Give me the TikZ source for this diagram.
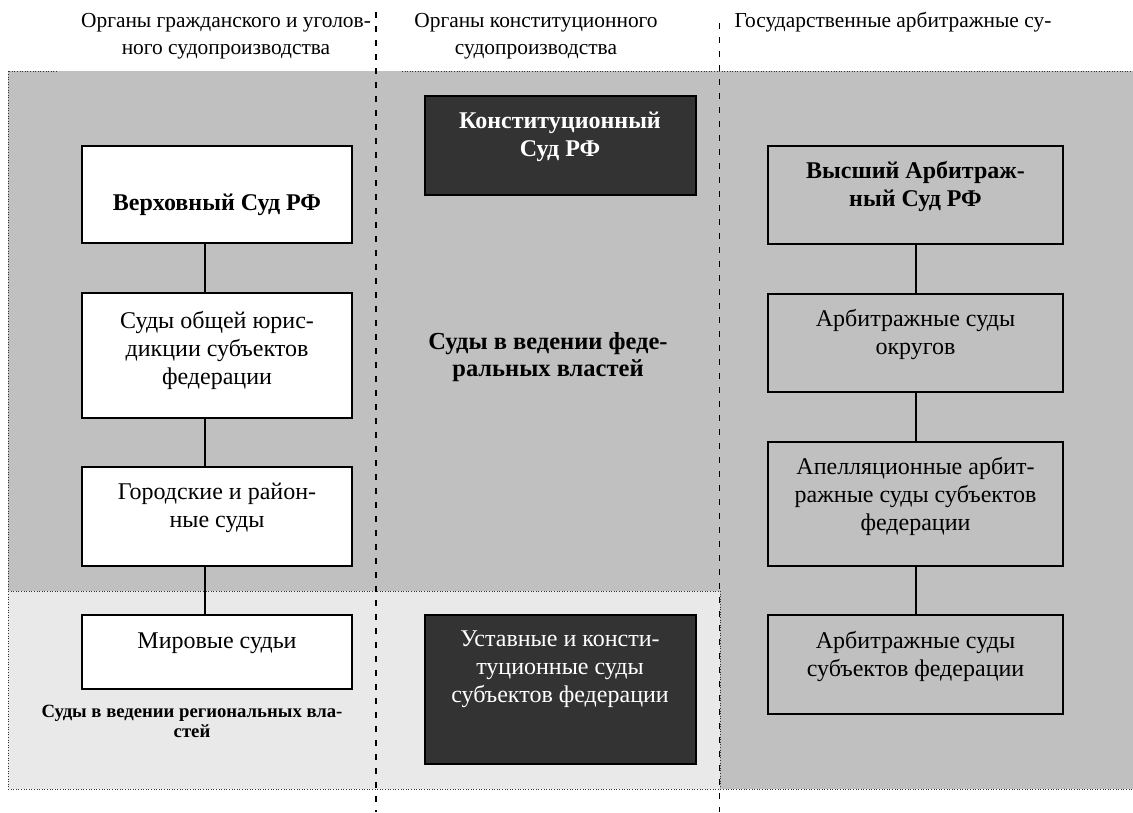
\documentclass[tikz,border=0pt]{standalone}
\usepackage{fontspec}
\setmainfont{Liberation Serif}
\definecolor{bgA}{RGB}{192,192,192}
\definecolor{bgB}{RGB}{233,233,233}
\definecolor{darkbox}{RGB}{51,51,51}
\newcommand\fbody{\fontsize{24}{28}\selectfont}
\newcommand\fhead{\fontsize{21.4}{27}\selectfont}
\newcommand\fsmall{\fontsize{18.7}{20}\selectfont\bfseries}
\tikzset{
  box/.style={draw=black, line width=2pt, inner sep=0pt, minimum width=#1},
  box/.default=270pt,
  whitebox/.style={box, fill=white},
  darkb/.style={box=271pt, fill=darkbox},
  greybox/.style={box=295pt},
  txt/.style={anchor=north, inner sep=0pt, align=center, font=\fbody},
  htxt/.style={anchor=north, inner sep=0pt, align=center, font=\fhead},
  link/.style={line width=2pt},
  dotline/.style={line width=0.9pt, dash pattern=on 1pt off 1.6pt, draw=black!80},
  divider/.style={line width=1.6pt, dash pattern=on 6pt off 8pt}
}
\begin{document}
\begin{tikzpicture}[x=1pt,y=-1pt]
\useasboundingbox (0,0) rectangle (1133,812);
% backgrounds
\fill[bgA] (8,71) rectangle (1133,591);
\fill[bgB] (8,591) rectangle (720,789);
\fill[bgA] (720,591) rectangle (1133,789);
\draw[dotline] (57,71) -- (8,71) -- (8,789) -- (1133,789);
\draw[dotline] (402,71) -- (1133,71);
\draw[dotline] (8,591) -- (720,591);
\draw[dotline] (720,591) -- (720,789);
% dividers
\coordinate (d1t) at (376,12);
\coordinate (d1b) at (376,812);
\coordinate (d2t) at (719.5,23);
\coordinate (d2b) at (719.5,812);
\draw[divider] (d1t) -- (d1b);
\draw[divider] (d2t) -- (d2b);
% headers
\node[htxt] (h1) at (226,8) {\strut Органы гражданского и уголов-\\ного судопроизводства};
\node[htxt] (h2) at (536,8) {\strut Органы конституционного\\судопроизводства};
\node[htxt] (h3) at (893,8) {\strut Государственные арбитражные су-};
% left column
\node[whitebox, minimum height=97pt] (B1) at (217,194.5) {};
\node[whitebox, minimum height=125pt] (B2) at (217,355.5) {};
\node[whitebox, minimum height=99pt] (B3) at (217,516.5) {};
\node[whitebox, minimum height=74pt] (B4) at (217,652) {};
\node[txt, font=\fbody\bfseries] (t1) at (217,191) {\strut Верховный Суд РФ};
\node[txt] (t2) at (217,309) {\strut Суды общей юрис-\\дикции субъектов\\федерации};
\node[txt] (t3) at (217,480) {\strut Городские и район-\\ные суды};
\node[txt] (t4) at (217,629) {\strut Мировые судьи};
\node[anchor=north, inner sep=0pt, align=center, font=\fsmall] (treg) at (192,703) {\strut Суды в ведении региональных вла-\\стей};
\coordinate (lc) at (205,0);
\draw[link] (B1.south -| lc) -- (B2.north -| lc);
\draw[link] (B2.south -| lc) -- (B3.north -| lc);
\draw[link] (B3.south -| lc) -- (B4.north -| lc);
% middle column
\node[darkb, minimum height=99pt] (K1) at (560.5,145.5) {};
\node[darkb, minimum height=149pt] (K2) at (560.5,689.5) {};
\node[txt, font=\fbody\bfseries, text=white] (tk1) at (560,109) {\strut Конституционный\\Суд РФ};
\node[txt, font=\fontsize{24.5}{27}\selectfont\bfseries] (tfed) at (548,330) {\strut Суды в ведении феде-\\ральных властей};
\node[txt, text=white] (tk2) at (560,627) {\strut Уставные и консти-\\туционные суды\\субъектов федерации};
% right column
\node[greybox, minimum height=98pt] (A1) at (915.5,195) {};
\node[greybox, minimum height=98pt] (A2) at (915.5,343) {};
\node[greybox, minimum height=124pt] (A3) at (915.5,504) {};
\node[greybox, minimum height=99pt] (A4) at (915.5,664.5) {};
\node[txt, font=\fbody\bfseries] (ta1) at (915.5,159) {\strut Высший Арбитраж-\\ный Суд РФ};
\node[txt] (ta2) at (915.5,307) {\strut Арбитражные суды\\округов};
\node[txt] (ta3) at (915.5,455) {\strut Апелляционные арбит-\\ражные суды субъектов\\федерации};
\node[txt] (ta4) at (915.5,629) {\strut Арбитражные суды\\субъектов федерации};
\draw[link] (A1) -- (A2);
\draw[link] (A2) -- (A3);
\draw[link] (A3) -- (A4);
\end{tikzpicture}
\end{document}
